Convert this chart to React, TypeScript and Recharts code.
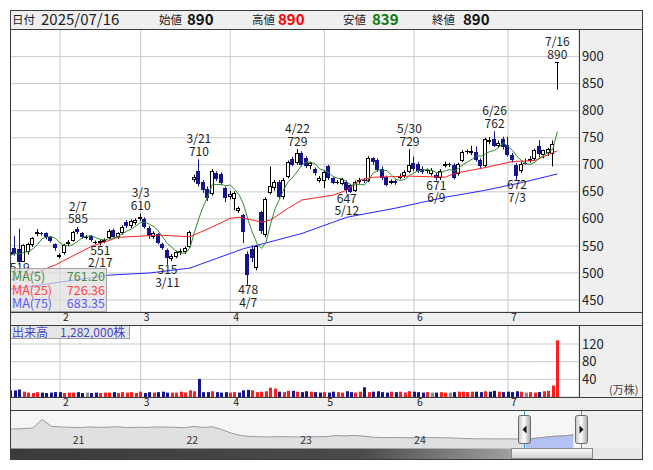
import React from 'react';
import {
  ComposedChart, Bar, Line, XAxis, YAxis, CartesianGrid, Scatter, AreaChart, Area,
} from 'recharts';

const FONT = '"Noto Sans CJK JP", "Noto Sans", sans-serif';

// ---- daily candles 2025/01/17 .. 2025/07/16 (index 0..122) ----
const opens = [
  533, 546, 545, 521, 538, 551, 572, 574, 573, 567, 553,
  529, 536, 553, 560, 581, 574, 566, 568, 555, 556, 558, 564, 579, 566, 573, 595, 586, 592,
  600, 600, 584, 566, 572, 553, 542, 526, 530, 536, 538, 548, 672, 688, 668, 656, 646, 685, 683, 657,
  640, 636, 614, 607, 535, 545, 509, 613, 570, 647, 657, 669, 640, 678, 710, 703, 722, 712, 697, 692, 670,
  670, 697, 675, 668, 665, 668, 662, 652, 668, 671, 670, 712, 708, 693, 678, 667, 670, 676, 680, 687,
  703, 702, 693, 688, 683, 682, 675, 698, 700, 700, 683, 707, 723, 722, 724, 709, 697, 742, 748, 735, 747,
  737, 718, 700, 688, 704, 707, 710, 735, 718, 721, 720, 890,
];
const highs = [
  545, 568, 582, 553, 556, 566, 581, 576, 575, 568, 555,
  536, 554, 561, 578, 585, 576, 570, 570, 560, 562, 564, 581, 582, 575, 588, 598, 599, 601,
  610, 603, 587, 577, 574, 556, 545, 535, 541, 545, 549, 578, 682, 710, 672, 660, 692, 688, 686, 660,
  652, 651, 623, 609, 540, 551, 552, 615, 640, 697, 672, 672, 676, 708, 715, 729, 725, 716, 706, 695, 679,
  690, 700, 678, 672, 676, 671, 665, 671, 676, 675, 716, 714, 712, 697, 680, 673, 673, 684, 690, 729,
  715, 705, 697, 693, 694, 685, 692, 706, 704, 703, 704, 727, 728, 735, 734, 712, 750, 751, 762, 745, 752,
  752, 722, 703, 706, 712, 716, 730, 746, 728, 731, 745, 890,
];
const lows = [
  528, 532, 519, 520, 534, 548, 568, 569, 562, 556, 541,
  527, 534, 550, 558, 572, 563, 562, 558, 553, 551, 555, 562, 565, 563, 571, 583, 583, 589,
  596, 582, 563, 563, 553, 543, 515, 522, 527, 533, 535, 546, 668, 660, 648, 633, 643, 670, 662, 631,
  636, 616, 611, 555, 478, 520, 505, 572, 566, 645, 652, 637, 636, 675, 697, 700, 697, 694, 692, 680, 667,
  657, 672, 664, 664, 662, 647, 648, 650, 665, 666, 668, 700, 687, 672, 660, 664, 663, 673, 676, 685,
  688, 685, 683, 684, 680, 671, 672, 695, 696, 673, 680, 705, 720, 718, 706, 692, 695, 738, 733, 731, 728,
  715, 704, 672, 685, 700, 704, 707, 714, 712, 716, 697, 839,
];
const closes = [
  538, 535, 521, 551, 553, 564, 576, 572, 566, 559, 547,
  533, 552, 558, 576, 575, 566, 566, 561, 558, 559, 561, 578, 567, 573, 585, 586, 596, 597,
  604, 585, 568, 573, 556, 546, 528, 532, 538, 540, 546, 576, 678, 664, 653, 638, 688, 674, 666, 639,
  646, 648, 621, 576, 496, 527, 550, 578, 636, 660, 669, 640, 672, 706, 700, 722, 700, 698, 703, 684, 676,
  687, 676, 667, 669, 673, 654, 650, 668, 672, 670, 712, 705, 690, 675, 663, 670, 667, 680, 686, 700,
  692, 688, 686, 690, 690, 675, 689, 701, 701, 676, 701, 724, 725, 726, 708, 697, 747, 746, 735, 740, 732,
  718, 708, 680, 702, 702, 711, 728, 720, 727, 730, 739, 890,
];
// volume, 10,000 shares (万株)
const volumes = [
  15, 15, 17, 12, 10, 9, 11, 10, 9, 10, 11,
  11, 9, 10, 10, 11, 9, 10, 9, 10, 9, 10, 10, 11, 9, 11, 10, 11, 9,
  12, 9, 11, 10, 11, 12, 10, 10, 10, 12, 10, 15, 13, 41, 11, 11, 13, 11, 10, 11,
  10, 11, 10, 15, 16, 15, 11, 12, 13, 21, 19, 12, 11, 14, 14, 12, 11, 13, 12, 11, 10,
  11, 10, 12, 11, 10, 13, 11, 10, 12, 22, 11, 12, 13, 11, 10, 12, 11, 12, 10, 13,
  12, 11, 10, 11, 10, 10, 11, 10, 10, 11, 12, 12, 11, 12, 12, 11, 13, 12, 14, 12, 11,
  12, 11, 13, 12, 10, 11, 10, 11, 13, 14, 26, 128.2,
];
// closes of the 4 sessions before the first bar (for the 5-day average)
const priorCloses = [520, 525, 537, 545];

// 25-day and 75-day averages (bar index -> value)
const ma25Idx = [0, 7, 10, 18, 24, 29, 33, 40, 45, 49, 51, 56, 58, 62, 65, 72, 75, 78, 81, 89, 97, 99, 106, 112, 117, 122];
const ma25Val = [487, 505, 515, 549, 566, 568, 570, 567, 585, 601, 603, 594, 598, 620, 635, 644, 653, 672, 677, 679, 677, 684, 695, 706, 708, 726];
const ma75Idx = [0, 22, 31, 40, 46, 52, 54, 65, 70, 75, 86, 97, 106, 114, 122];
const ma75Val = [470, 496, 500, 509, 527, 545, 549, 573, 588, 603, 620, 640, 653, 667, 683];

// high / low annotations (the first date sits behind the legend box)
const markIdx = [2, 15, 20, 29, 35, 42, 53, 64, 75, 89, 95, 108, 113, 122];
const markVal = [519, 585, 551, 610, 515, 710, 478, 729, 647, 729, 671, 762, 672, 890];
const markDate = ['', '2/7', '2/17', '3/3', '3/11', '3/21', '4/7', '4/22', '5/12', '5/30', '6/9', '6/26', '7/3', '7/16'];
const markKind = ['low', 'high', 'low', 'high', 'low', 'high', 'low', 'high', 'low', 'high', 'low', 'high', 'low', 'high'];

// month axis
const monthStartIdx = [11, 29, 49, 70, 90, 111];
const monthLabels = ['2', '3', '4', '5', '6', '7'];
const priceTicks = [450, 500, 550, 600, 650, 700, 750, 800, 850, 900];
const volTicks = [40, 80, 120];

// navigator: monthly history 2020/06 .. 2025/07
const navValues = [
  1120, 1100, 1130, 1150, 1650, 1250, 1220,
  1200, 1180, 1220, 1190, 1210, 1230, 1180, 1200, 1190, 1220, 1210, 1200,
  1170, 1250, 1190, 1230, 1050, 850, 720, 660,
  650, 640, 660, 650, 640, 655, 650, 660,
  720, 700, 730, 680,
  620, 600, 610, 600, 590, 610, 600, 595, 590, 560,
  540, 530, 530, 525, 530, 520, 520,
  560, 620, 680, 700, 760,
];
const navYearIdx = [7, 19, 31, 43];
const navYearLabels = ['21', '22', '23', '24'];
const navSelStart = 55;

const VOL_UP = '#ff1e1e';
const VOL_DOWN = '#14148c';
const VOL_FLAT = '#8c8c8c';
const CANDLE_DOWN = '#14148c';

const allCloses = [...priorCloses, ...closes];
const rows = opens.map((o, i) => {
  const c = closes[i];
  const prev = allCloses[i + priorCloses.length - 1];
  const win = allCloses.slice(i, i + 5);
  const k25 = ma25Idx.indexOf(i);
  const k75 = ma75Idx.indexOf(i);
  return {
    i,
    o,
    h: highs[i],
    l: lows[i],
    c,
    range: [lows[i], highs[i]],
    vol: volumes[i],
    vc: c > prev ? VOL_UP : c < prev ? VOL_DOWN : VOL_FLAT,
    ma5: win.reduce((a, b) => a + b, 0) / 5,
    ma25: k25 >= 0 ? ma25Val[k25] : null,
    ma75: k75 >= 0 ? ma75Val[k75] : null,
  };
});

const markRows = markIdx.map((idx, k) => ({ i: idx, v: markVal[k], d: markDate[k], t: markKind[k] }));

const navRows = navValues.map((v, m) => ({ m, v, sel: m >= navSelStart ? v : null }));

const Candle = (props: any) => {
  const { x, y, width, height, payload } = props;
  if (x == null || y == null || !payload) return null;
  const { o, h, l, c } = payload;
  const span = h - l;
  const k = span > 0 ? height / span : 0;
  const yOf = (v: number) => y + (h - v) * k;
  const cx = Math.floor(x + width / 2);
  const up = c >= o;
  const col = up ? '#000000' : CANDLE_DOWN;
  const top = Math.round(yOf(Math.max(o, c)));
  const bot = Math.round(yOf(Math.min(o, c)));
  return (
    <g>
      <line x1={cx + 0.5} x2={cx + 0.5} y1={yOf(h)} y2={yOf(l)} stroke={col} strokeWidth={1} />
      {bot - top < 2 ? (
        <line x1={cx - 2} x2={cx + 2} y1={top + 0.5} y2={top + 0.5} stroke={col} strokeWidth={1} />
      ) : (
        <rect x={cx - 1.5} y={top + 0.5} width={3} height={bot - top - 1} fill={up ? '#ffffff' : CANDLE_DOWN} stroke={col} strokeWidth={1} />
      )}
    </g>
  );
};

const VolBar = (props: any) => {
  const { x, y, width, height, payload } = props;
  if (x == null || y == null || !payload || !(height > 0)) return null;
  const cx = Math.floor(x + width / 2);
  return <rect x={cx - 1} y={y} width={3} height={height} fill={payload.vc} />;
};

const MarkLabel = (props: any) => {
  const { cx, cy, payload } = props;
  if (cx == null || cy == null || !payload) return null;
  const style = { fontSize: 12, fill: '#222', fontFamily: FONT };
  if (payload.t === 'high') {
    return (
      <g>
        {payload.d ? <text x={cx} y={cy - 16} textAnchor="middle" style={style}>{payload.d}</text> : null}
        <text x={cx} y={cy - 3.5} textAnchor="middle" style={style}>{payload.v}</text>
      </g>
    );
  }
  return (
    <g>
      <text x={cx} y={cy + 9.5} textAnchor="middle" style={style}>{payload.v}</text>
      {payload.d ? <text x={cx} y={cy + 22} textAnchor="middle" style={style}>{payload.d}</text> : null}
    </g>
  );
};

const MonthTick = (props: any) => {
  const { x, y, payload } = props;
  const k = monthStartIdx.indexOf(payload.value);
  return (
    <text x={x + 3} y={y + 9} style={{ fontSize: 10.5, fill: '#222', fontFamily: FONT }}>
      {k >= 0 ? monthLabels[k] : ''}
    </text>
  );
};

const YearTick = (props: any) => {
  const { x, y, payload } = props;
  const k = navYearIdx.indexOf(payload.value);
  return (
    <text x={x + 2} y={y - 4} style={{ fontSize: 10.5, fill: '#333', fontFamily: FONT }}>
      {k >= 0 ? navYearLabels[k] : ''}
    </text>
  );
};

const xDomain: [number, number] = [-0.16, 126.84];
const zeroMargin = { top: 0, right: 0, bottom: 0, left: 0 };
const axisTickStyle = { fontSize: 13, fill: '#222', fontFamily: FONT };

const box = (left: number, top: number, width: number, height: number, bg: string): React.CSSProperties => ({
  position: 'absolute', left, top, width, height, background: bg,
});

export default function App() {
  const hdr = { fontFamily: FONT, fill: '#222' };
  const lg = (fill: string) => ({ fontFamily: FONT, fontSize: 12.5, fill });
  return (
    <div style={{ position: 'absolute', left: 0, top: 0, width: 653, height: 470, background: '#fff', fontFamily: FONT }}>
      {/* panel backgrounds */}
      <div style={box(10, 10, 632, 19, '#efefef')} />
      <div style={box(579, 29, 63, 283, '#efefef')} />
      <div style={box(10, 312, 632, 13, '#efefef')} />
      <div style={box(579, 325, 63, 72, '#efefef')} />
      <div style={box(10, 397, 632, 13, '#efefef')} />
      <div style={box(10, 410, 632, 38, '#efefef')} />
      <div style={box(10, 410, 569, 38, '#f6f6f6')} />

      {/* price pane */}
      <div style={{ position: 'absolute', left: 10, top: 29 }}>
        <ComposedChart width={632} height={296} data={rows} margin={zeroMargin}>
          <CartesianGrid stroke="#c8c8c8" />
          <XAxis type="number" dataKey="i" domain={xDomain} allowDataOverflow ticks={monthStartIdx} interval={0}
            height={13} tickLine={false} axisLine={false} tickSize={0} tickMargin={0} tick={MonthTick} />
          <YAxis orientation="right" type="number" domain={[427.8, 951.1]} allowDataOverflow ticks={priceTicks} interval={0}
            width={63} tickLine={false} axisLine={false} tickSize={0} tickMargin={3} tick={axisTickStyle} />
          <Bar dataKey="range" barSize={4} shape={Candle} isAnimationActive={false} />
          <Line dataKey="ma75" stroke="#2626ff" strokeWidth={1} dot={false} connectNulls isAnimationActive={false} />
          <Line dataKey="ma25" stroke="#ff2020" strokeWidth={1} dot={false} connectNulls isAnimationActive={false} />
          <Line dataKey="ma5" stroke="#2f8a2f" strokeWidth={1} dot={false} isAnimationActive={false} />
          <Scatter data={markRows} dataKey="v" shape={MarkLabel} isAnimationActive={false} />
        </ComposedChart>
      </div>

      {/* volume pane */}
      <div style={{ position: 'absolute', left: 10, top: 325 }}>
        <ComposedChart width={632} height={85} data={rows} margin={zeroMargin}>
          <CartesianGrid stroke="#c8c8c8" />
          <XAxis type="number" dataKey="i" domain={xDomain} allowDataOverflow ticks={monthStartIdx} interval={0}
            height={13} tickLine={false} axisLine={false} tickSize={0} tickMargin={0} tick={MonthTick} />
          <YAxis orientation="right" type="number" domain={[0, 163]} allowDataOverflow ticks={volTicks} interval={0}
            width={63} tickLine={false} axisLine={false} tickSize={0} tickMargin={3} tick={axisTickStyle} />
          <Bar dataKey="vol" barSize={3} shape={VolBar} isAnimationActive={false} />
        </ComposedChart>
      </div>

      {/* navigator */}
      <div style={{ position: 'absolute', left: 10, top: 410 }}>
        <AreaChart width={569} height={40} data={navRows} margin={zeroMargin}>
          <XAxis type="number" dataKey="m" domain={[0.6, 60.6]} allowDataOverflow ticks={navYearIdx} interval={0}
            height={2} tickLine={false} axisLine={false} tickSize={0} tickMargin={0} tick={YearTick} />
          <YAxis hide type="number" domain={[0, 2200]} allowDataOverflow />
          <Area type="linear" dataKey="v" stroke="#9a9a9a" strokeWidth={1} fill="#e0e0e0" fillOpacity={1} isAnimationActive={false} />
          <Area type="linear" dataKey="sel" stroke="#9a9a9a" strokeWidth={1} fill="#b3c2f2" fillOpacity={1} isAnimationActive={false} />
        </AreaChart>
      </div>

      {/* overlay: header, legends, chrome */}
      <svg width={653} height={470} style={{ position: 'absolute', left: 0, top: 0, pointerEvents: 'none' }}>
        <defs>
          <linearGradient id="scrollDark" x1="0" y1="0" x2="1" y2="0">
            <stop offset="0" stopColor="#3a3a3a" />
            <stop offset="0.7" stopColor="#4a4a4a" />
            <stop offset="1" stopColor="#a0a0a0" />
          </linearGradient>
          <linearGradient id="thumb" x1="0" y1="0" x2="0" y2="1">
            <stop offset="0" stopColor="#fafafa" />
            <stop offset="1" stopColor="#cfcfcf" />
          </linearGradient>
          <linearGradient id="handle" x1="0" y1="0" x2="1" y2="0">
            <stop offset="0" stopColor="#c4c4c4" />
            <stop offset="0.45" stopColor="#ffffff" />
            <stop offset="1" stopColor="#a8a8a8" />
          </linearGradient>
        </defs>

        {/* header */}
        <text x={12} y={24} style={{ ...hdr, fontSize: 11.5 }}>日付</text>
        <text x={41} y={24.5} style={{ ...hdr, fontSize: 15 }}>2025/07/16</text>
        <text x={159} y={24} style={{ ...hdr, fontSize: 11.5 }}>始値</text>
        <text x={187} y={24.5} style={{ ...hdr, fontSize: 15, fontWeight: 700, fill: '#111' }}>890</text>
        <text x={252} y={24} style={{ ...hdr, fontSize: 11.5 }}>高値</text>
        <text x={278} y={24.5} style={{ ...hdr, fontSize: 15, fontWeight: 700, fill: '#ff0000' }}>890</text>
        <text x={343} y={24} style={{ ...hdr, fontSize: 11.5 }}>安値</text>
        <text x={372} y={24.5} style={{ ...hdr, fontSize: 15, fontWeight: 700, fill: '#0b7a0b' }}>839</text>
        <text x={432} y={24} style={{ ...hdr, fontSize: 11.5 }}>終値</text>
        <text x={463} y={24.5} style={{ ...hdr, fontSize: 15, fontWeight: 700, fill: '#111' }}>890</text>

        {/* MA legend */}
        <rect x={10.5} y={268.5} width={96} height={43} fill="rgba(222,222,222,0.72)" stroke="#a4a4a4" />
        <text x={12} y={280.5} style={lg('#4a8c4a')}>MA(5)</text>
        <text x={105} y={280.5} textAnchor="end" style={lg('#4a8c4a')}>761.20</text>
        <text x={12} y={294.5} style={lg('#ff4646')}>MA(25)</text>
        <text x={105} y={294.5} textAnchor="end" style={lg('#ff4646')}>726.36</text>
        <text x={12} y={308} style={lg('#5a5aff')}>MA(75)</text>
        <text x={105} y={308} textAnchor="end" style={lg('#5a5aff')}>683.35</text>

        {/* volume legend */}
        <rect x={10.5} y={325.5} width={119} height={13} fill="#e6e6e6" stroke="#9c9c9c" />
        <text x={12} y={336.5} style={{ fontFamily: FONT, fontSize: 12, fill: '#4646c8' }}>出来高　1,282,000株</text>
        <text x={609} y={394} style={{ fontFamily: FONT, fontSize: 11, fill: '#444' }}>(万株)</text>

        {/* navigator selection */}
        <line x1={524.5} x2={524.5} y1={411} y2={448} stroke="#2ea6dc" />
        <line x1={581.5} x2={581.5} y1={411} y2={448} stroke="#2ea6dc" />
        <rect x={518.5} y={415.5} width={12} height={28} rx={2} fill="url(#handle)" stroke="#6a6a6a" />
        <polygon points="522.5,429.5 526.5,425.5 526.5,433.5" fill="#111" />
        <rect x={575.5} y={415.5} width={12} height={28} rx={2} fill="url(#handle)" stroke="#6a6a6a" />
        <polygon points="579.5,425.5 579.5,433.5 583.5,429.5" fill="#111" />

        {/* scrollbar */}
        <rect x={10} y={448} width={632} height={11} fill="#e8e8e8" />
        <rect x={10} y={448.5} width={501} height={10.5} fill="url(#scrollDark)" />
        <rect x={511.5} y={448.5} width={81} height={10} fill="url(#thumb)" stroke="#8a8a8a" />

        {/* frame lines */}
        <g stroke="#3c3c3c" strokeWidth={1} fill="none">
          <line x1={10} x2={643} y1={10.5} y2={10.5} />
          <line x1={10} x2={643} y1={29.5} y2={29.5} />
          <line x1={10} x2={643} y1={312.5} y2={312.5} />
          <line x1={10} x2={643} y1={325.5} y2={325.5} />
          <line x1={10} x2={643} y1={397.5} y2={397.5} />
          <line x1={10} x2={643} y1={410.5} y2={410.5} />
          <line x1={10} x2={643} y1={459.5} y2={459.5} />
          <line x1={10.5} x2={10.5} y1={10} y2={460} />
          <line x1={642.5} x2={642.5} y1={10} y2={460} />
          <line x1={579.5} x2={579.5} y1={29} y2={313} />
          <line x1={579.5} x2={579.5} y1={325} y2={398} />
        </g>
      </svg>
    </div>
  );
}
